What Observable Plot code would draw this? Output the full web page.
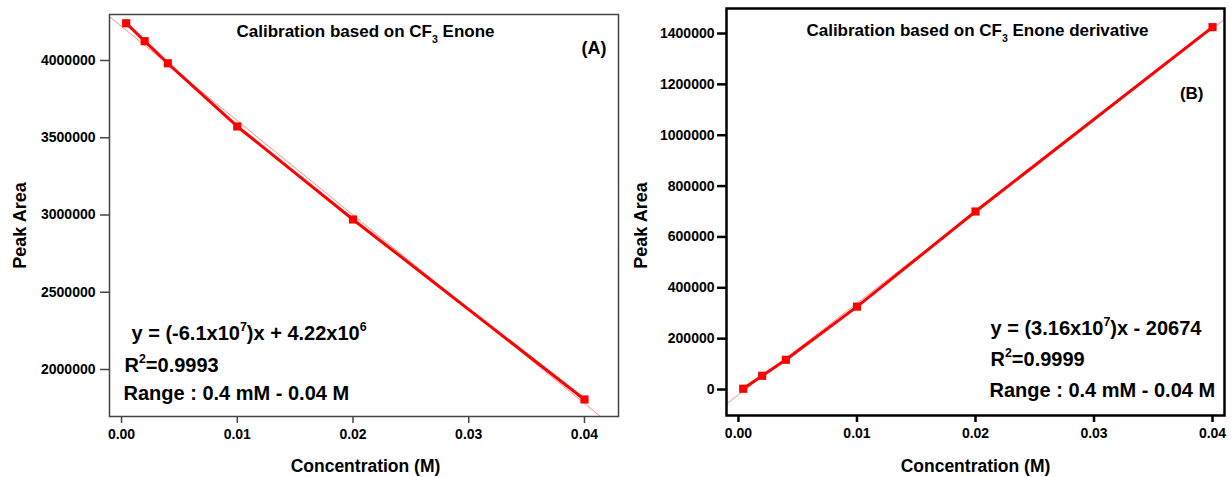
<!DOCTYPE html>
<html>
<head>
<meta charset="utf-8">
<script src="https://cdn.jsdelivr.net/npm/d3@7"></script>
<script src="https://cdn.jsdelivr.net/npm/@observablehq/plot@0.6"></script>
<style>
  html, body { margin: 0; padding: 0; background: #fff; }
  #wrap { display: flex; width: 1231px; height: 477px; }
</style>
</head>
<body>
<div id="wrap"></div>
<script>
// ---- Data ----
const concA = [0.0004, 0.002, 0.004, 0.01, 0.02, 0.04];
const areaA = [4241000, 4125000, 3982000, 3573000, 2971000, 1806000];
const concB = [0.0004, 0.002, 0.004, 0.01, 0.02, 0.04];
const areaB = [3000, 54000, 117000, 326000, 700000, 1425000];

const xTicks = [0, 0.01, 0.02, 0.03, 0.04];
const yTicksA = [2000000, 2500000, 3000000, 3500000, 4000000];
const yTicksB = [0, 200000, 400000, 600000, 800000, 1000000, 1200000, 1400000];

// fitted lines (slope, intercept) as drawn in the reference
const fitA = {slope: -6.1e7, intercept: 4.22e6};
const fitB = {slope: 3.6e7, intercept: -20674};

const titleA = "Calibration based on CF_{3} Enone";
const titleB = "Calibration based on CF_{3} Enone derivative";
const tagA = "(A)";
const tagB = "(B)";
const eqA = ["y = (-6.1x10^{7})x + 4.22x10^{6}", "R^{2}=0.9993", "Range : 0.4 mM - 0.04 M"];
const eqB = ["y = (3.16x10^{7})x - 20674", "R^{2}=0.9999", "Range : 0.4 mM - 0.04 M"];
const xLabel = "Concentration (M)";
const yLabel = "Peak Area";

const FONT = "'Liberation Sans', Arial, Helvetica, sans-serif";

function richify(svg) {
  svg.querySelectorAll("text").forEach(t => {
    const nodes = t.children.length ? [...t.querySelectorAll("tspan")] : [t];
    nodes.forEach(n => {
      const s = n.textContent;
      if (!/[\^_]\{/.test(s)) return;
      n.textContent = "";
      const re = /(\^|_)\{([^}]*)\}/g;
      let last = 0, m, pending = null;
      const add = (txt, attrs) => {
        const ts = document.createElementNS("http://www.w3.org/2000/svg", "tspan");
        for (const k in attrs) if (attrs[k] != null) ts.setAttribute(k, attrs[k]);
        ts.textContent = txt;
        n.appendChild(ts);
      };
      while ((m = re.exec(s))) {
        if (m.index > last) { add(s.slice(last, m.index), {dy: pending}); pending = null; }
        if (m[1] === "^") { add(m[2], {"font-size": "62%", dy: "-0.75em"}); pending = "0.465em"; }
        else { add(m[2], {"font-size": "62%", dy: "0.55em"}); pending = "-0.34em"; }
        last = re.lastIndex;
      }
      if (last < s.length) add(s.slice(last), {dy: pending});
    });
  });
}

function panel(o) {
  const data = o.conc.map((c, i) => ({c, a: o.area[i]}));
  const fitPts = o.xDomain.map(x => ({c: x, a: o.fit.slope * x + o.fit.intercept}));
  const svg = Plot.plot({
    width: o.width, height: 477,
    marginLeft: o.ml, marginRight: o.mr, marginTop: o.mt, marginBottom: o.mb,
    x: {domain: o.xDomain},
    y: {domain: o.yDomain},
    style: {fontFamily: FONT, fontWeight: "bold", color: "#000", background: "#fff", overflow: "visible"},
    marks: [
      Plot.line(fitPts, {x: "c", y: "a", stroke: "#ff8c8c", strokeWidth: 1, clip: true}),
      Plot.line(data, {x: "c", y: "a", stroke: "#ff0000", strokeWidth: 3}),
      Plot.dot(data, {x: "c", y: "a", symbol: "square", r: 4.6, fill: "#ff0000", stroke: "none"}),
      Plot.frame({stroke: o.frameStroke, strokeWidth: o.frameWidth}),
      Plot.axisX({ticks: xTicks, tickFormat: d3.format(".2f"), tickSize: 7, tickPadding: 6, fontSize: 14,
                  label: null, stroke: o.frameStroke, strokeWidth: o.frameWidth, fill: "#000"}),
      Plot.axisY({ticks: o.yTicks, tickFormat: d3.format("d"), tickSize: 9, tickPadding: o.ypad, fontSize: 14,
                  label: null, stroke: o.frameStroke, strokeWidth: o.frameWidth, fill: "#000"}),
      Plot.text([o.title], {text: d => d, frameAnchor: "top", textAnchor: "middle", dx: o.titleDx, dy: o.titleDy, fontSize: 17, lineAnchor: "middle"}),
      Plot.text([o.tag], {text: d => d, frameAnchor: "top-right", textAnchor: "end", dx: o.tagDx, dy: o.tagDy, fontSize: o.tagSize, lineAnchor: "middle"}),
      ...o.eq.map((s, i) => Plot.text([s], {text: d => d, frameAnchor: "bottom-left", textAnchor: "start", lineAnchor: "middle",
                  dx: o.eqDx[i], dy: o.eqDy[i], fontSize: 20})),
      Plot.text([xLabel], {text: d => d, frameAnchor: "bottom", textAnchor: "middle", dx: o.xlDx, dy: o.xlDy, fontSize: 17.5, lineAnchor: "middle"}),
      Plot.text([yLabel], {text: d => d, frameAnchor: "left", textAnchor: "middle", rotate: -90, dx: o.ylDx, dy: o.ylDy, fontSize: 18, lineAnchor: "middle"})
    ]
  });
  richify(svg);
  return svg;
}

const wrap = document.getElementById("wrap");
wrap.appendChild(panel({
  conc: concA, area: areaA, fit: fitA, yTicks: yTicksA,
  width: 620, ml: 109, mr: 2, mt: 14, mb: 61,
  xDomain: [-0.00104, 0.04294], yDomain: [1695800, 4297700],
  frameStroke: "#444", frameWidth: 1.5, ypad: 5,
  title: titleA, titleDx: 1.5, titleDy: 17,
  tag: tagA, tagDx: -12, tagDy: 34, tagSize: 18,
  eq: eqA, eqDx: [22, 15, 14], eqDy: [-83, -51, -23],
  xlDx: 1.5, xlDy: 50, ylDx: -89, ylDy: 10
}));
wrap.appendChild(panel({
  conc: concB, area: areaB, fit: fitB, yTicks: yTicksB,
  width: 611, ml: 106, mr: 7, mt: 8, mb: 62,
  xDomain: [-0.00101, 0.04101], yDomain: [-102200, 1498300],
  frameStroke: "#000", frameWidth: 2.5, ypad: 3,
  title: titleB, titleDx: 2, titleDy: 22,
  tag: tagB, tagDx: -21, tagDy: 85, tagSize: 17,
  eq: eqB, eqDx: [264, 264, 263], eqDy: [-87, -56, -25],
  xlDx: 0, xlDy: 51, ylDx: -85, ylDy: 13.5
}));
</script>
</body>
</html>
